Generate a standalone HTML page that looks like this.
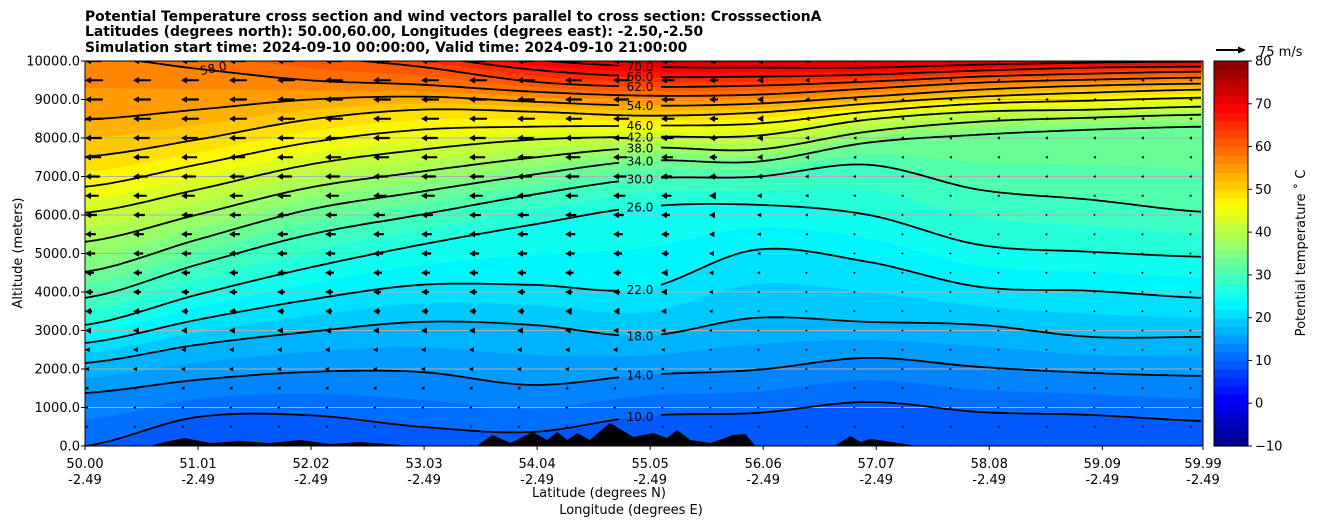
<!DOCTYPE html>
<html><head><meta charset="utf-8">
<style>
html,body{margin:0;padding:0;background:#fff;}
svg{display:block;font-family:"DejaVu Sans","Liberation Sans",sans-serif;}
</style></head>
<body>
<svg id="chart" width="1320" height="526" viewBox="0 0 1320 526" xmlns="http://www.w3.org/2000/svg">
  <g font-weight="bold" font-size="13.9" fill="#000">
    <text x="85" y="21">Potential Temperature cross section and wind vectors parallel to cross section: CrosssectionA</text>
    <text x="85" y="36">Latitudes (degrees north): 50.00,60.00, Longitudes (degrees east): -2.50,-2.50</text>
    <text x="85" y="52">Simulation start time: 2024-09-10 00:00:00, Valid time: 2024-09-10 21:00:00</text>
  </g>
  <defs><clipPath id="plotclip"><rect x="85" y="61" width="1118" height="385"/></clipPath></defs>
  <g id="fills" clip-path="url(#plotclip)"></g>
  <g id="grid"></g>
  <g id="terrain" clip-path="url(#plotclip)"></g>
  <g id="contours" clip-path="url(#plotclip)"></g>
  <g id="clabels" font-size="12" fill="#000"></g>
  <g id="arrows" clip-path="url(#plotclip)"></g>
  <rect x="85" y="61" width="1118" height="385" fill="none" stroke="#000" stroke-width="1"/>
  <g id="xaxis" font-size="13"></g>
  <g id="yaxis" font-size="13"></g>
  <text x="599" y="497" font-size="13" text-anchor="middle">Latitude (degrees N)</text>
  <text x="631" y="514" font-size="13" text-anchor="middle">Longitude (degrees E)</text>
  <text transform="translate(22,253) rotate(-90)" font-size="13" text-anchor="middle">Altitude (meters)</text>
  <g id="cbar" font-size="13"></g>
  <text transform="translate(1305,253) rotate(-90)" font-size="13" text-anchor="middle">Potential temperature ˚ C</text>
  <g>
    <polygon points="1216,49 1238,49 1238,46.5 1246,50 1238,53.5 1238,51 1216,51" fill="#000"/>
    <text x="1258" y="56" font-size="13">75 m/s</text>
  </g>
</svg>
<script>
// ---- data ----
const lats = [50,51,52,53,54,55,56,57,58,59,60];
const levels = [10,14,18,22,26,30,34,38,42,46,50,54,58,62,66,70,74];
const h10 = [0,750,800,500,364,780,858,1144,884,806,650];
const h14 = [1378,1716,1924,1924,1586,1846,1976,2288,2054,1898,1820];
const h18 = [2158,2626,2964,3224,3146,2860,3328,3224,3146,2834,2834];
const h22 = [2678,3276,3796,4186,4186,4082,5096,4784,4134,4030,3848];
const h26 = [3146,3926,4628,5226,5746,6214,6266,6006,5226,5044,4914];
const h30 = [3848,4706,5486,6006,6526,6942,6994,7306,6656,6396,6084];
const h34 = [4524,5356,6136,6604,7046,7410,7384,7878,8086,8216,8294];
const h38 = [5304,6006,6708,7124,7488,7748,7696,8164,8424,8528,8606];
const h42 = [6058,6656,7306,7696,7956,8034,8060,8476,8684,8736,8814];
const h46 = [6734,7306,7878,8216,8294,8320,8372,8684,8892,8970,9048];
const h50 = [7514,7956,8476,8736,8684,8580,8658,8892,9074,9178,9256];
const h54 = [8476,8736,8996,9074,8944,8840,8892,9074,9256,9360,9412];
const h58 = [10150,9800,9500,9386,9204,9100,9126,9282,9438,9516,9568];
const h62 = [11000,10600,10150,9850,9464,9334,9360,9464,9594,9672,9724];
const h66 = [11300,10900,10500,10150,9776,9594,9594,9646,9750,9828,9854];
const h70 = [11500,11100,10750,10400,10036,9854,9828,9828,9906,9958,9984];
const h74 = [11700,11300,10950,10650,10296,10036,10088,10140,10114,10088,10114];
const h78 = [12000,11600,11300,11200,10900,10600,10500,10450,10450,10500,10500];
const labeledLevels = [10,14,18,22,26,30,34,38,42,46,54,62,66,70];
const terrainLat = [50.00,50.58,50.71,50.89,51.12,51.39,51.65,51.92,52.19,52.46,52.82,53.08,53.50,53.64,53.80,54.00,54.13,54.22,54.31,54.40,54.51,54.69,54.90,55.08,55.20,55.29,55.41,55.59,55.79,55.90,55.99,56.70,56.84,56.93,57.02,57.15,57.44,57.64,59.99];
const terrainAlt = [0,0,104,208,78,130,78,156,52,104,26,0,0,286,78,364,156,364,156,338,156,598,234,338,208,416,156,78,286,312,0,0,260,104,182,130,0,0,0];
const windAlts = [0,500,1000,1500,2000,2500,3000,3500,4000,4500,5000,5500,6000,6500,7000,7500,8000,8500,9000,9500,10000];
const windProfile = [5,7,8,9,11,13,16,19,21,24,27,29,32,37,40,43,45,48,48,48,45];
const windColFactor = [1,1,1,1,1,1,1,1,1,1,0.95,0.9,0.75,0.5,0.35,0.25,0.2,0.18,0.18,0.18,0.18,0.18,0.18,0.18];
const xTickLats = [50.00,51.01,52.02,53.03,54.04,55.05,56.06,57.07,58.08,59.09,59.99];
const xTickLons = ["-2.49","-2.49","-2.49","-2.49","-2.49","-2.49","-2.49","-2.49","-2.49","-2.49","-2.49"];
const yTicks = [0,1000,2000,3000,4000,5000,6000,7000,8000,9000,10000];
const cbarTicks = [-10,0,10,20,30,40,50,60,70,80];

// ---- scales ----
const X0=85,X1=1203,Y0=446,Y1=61;
const xOf = lat => X0 + (lat-50)/(59.99-50)*(X1-X0);
const yOf = alt => Y0 - alt/10000*(Y0-Y1);
const latOf = x => 50 + (x-X0)/(X1-X0)*9.99;
const NS='http://www.w3.org/2000/svg';
function mk(tag, attrs, parent){const e=document.createElementNS(NS,tag);for(const k in attrs)e.setAttribute(k,attrs[k]);parent.appendChild(e);return e;}
function jet(v){const t=Math.max(0,Math.min(1,(v+10)/90));const c=x=>Math.round(255*Math.max(0,Math.min(1,x)));
  return `rgb(${c(1.5-Math.abs(4*t-3))},${c(1.5-Math.abs(4*t-2))},${c(1.5-Math.abs(4*t-1))})`;}

const coarse = [h10,h14,h18,h22,h26,h30,h34,h38,h42,h46,h50,h54,h58,h62,h66,h70,h74];
function catmull(arr, lat){
  const u=(lat-50)*10/9.99;let i=Math.floor(u);if(i<0)i=0;if(i>arr.length-2)i=arr.length-2;
  const t=u-i;const p0=arr[Math.max(0,i-1)],p1=arr[i],p2=arr[i+1],p3=arr[Math.min(arr.length-1,i+2)];
  return 0.5*((2*p1)+(-p0+p2)*t+(2*p0-5*p1+4*p2-p3)*t*t+(-p0+3*p1-3*p2+p3)*t*t*t);
}
const xs=[];for(let x=X0;x<=X1+0.01;x+=3)xs.push(x);
const fullLv=[8].concat(levels,[78,82]);
const fullH=[xs.map(()=>-800)].concat(coarse.map(a=>xs.map(x=>catmull(a,latOf(x)))),[xs.map(x=>catmull(h78,latOf(x)))],[xs.map(()=>14000)]);
function heightsFor(L){
  for(let k=0;k<fullLv.length-1;k++){
    if(L>=fullLv[k]&&L<=fullLv[k+1]){const f=(L-fullLv[k])/(fullLv[k+1]-fullLv[k]);
      return xs.map((_,j)=>fullH[k][j]*(1-f)+fullH[k+1][j]*f);}
  }
  return xs.map(()=>14000);
}
// fills
const gF=document.getElementById('fills');
const bg=mk('rect',{x:X0,y:Y1,width:X1-X0,height:Y0-Y1,fill:jet(9)},gF);


for(let L=10;L<80;L+=2){
  const hs=heightsFor(L);
  let d='M'+xs.map((x,j)=>x.toFixed(1)+','+yOf(hs[j]).toFixed(1)).join('L')+`L${X1},${Y1-5}L${X0},${Y1-5}Z`;
  const p=mk('path',{d:d,fill:jet(L+1),stroke:jet(L+1),'stroke-width':0.5},gF);
  
  
}
// grid
const gG=document.getElementById('grid');
yTicks.slice(1,-1).forEach(a=>{
  const l=mk('line',{x1:X0,x2:X1,y1:yOf(a),y2:yOf(a),stroke:'#b0b0b0','stroke-width':1},gG);
  
  
});
// terrain
const gT=document.getElementById('terrain');
let td=`M${xOf(terrainLat[0])},${Y0+2}`;
terrainLat.forEach((la,i)=>{td+=`L${xOf(la).toFixed(1)},${yOf(terrainAlt[i]).toFixed(1)}`;});
td+=`L${X1},${Y0+2}Z`;
const tp=mk('path',{d:td,fill:'#000'},gT);


// contours
const gC=document.getElementById('contours'),gL=document.getElementById('clabels');
levels.forEach((L,k)=>{
  const hs=fullH[k+1];const lab=labeledLevels.includes(L);
  let d='',pen=false;
  xs.forEach((x,j)=>{
    const y=yOf(hs[j]);
    if(lab&&x>620&&x<660){pen=false;return;}
    d+=(pen?'L':'M')+x.toFixed(1)+','+y.toFixed(1);pen=true;
  });
  const p=mk('path',{d:d,fill:'none',stroke:'#000','stroke-width':1.8},gC);
  
  
  if(lab){
    const y=yOf(catmull(coarse[k],latOf(640)));
    if(y>62){
      const t=mk('text',{x:640,y:(y+4.5).toFixed(1),'text-anchor':'middle'},gL);
      t.textContent=L.toFixed(1);
      
      
    }
  }
});
const t58=mk('text',{x:200,y:72,'font-size':12,transform:'rotate(-12 215 68)'},gL);
t58.textContent='58.0';


// arrows
const gA=document.getElementById('arrows');
const pxPerMs=28/75;
windColFactor.forEach((cf,ci)=>{
  const x=X0+48*ci;
  windAlts.forEach((a,ri)=>{
    const y=yOf(a);const L=windProfile[ri]*cf*pxPerMs;
    let pts;
    if(L>=7){pts=[[0,0],[6,-3.3],[6,-1.1],[L,-1.1],[L,1.1],[6,1.1],[6,3.3]];}
    else{const s=Math.max(L,2.2)/6;pts=[[0,0],[6*s,-3.3*s],[6*s,3.3*s]];}
    const ar=mk('polygon',{points:pts.map(p=>(x+p[0]).toFixed(1)+','+(y+p[1]).toFixed(1)).join(' '),fill:'#000'},gA);
    
    
  });
});
// x axis
const gX=document.getElementById('xaxis');
xTickLats.forEach((la,i)=>{
  const x=xOf(la);
  const tk=mk('line',{x1:x,x2:x,y1:Y0,y2:Y0+4,stroke:'#000'},gX);
  
  
  const t=mk('text',{x:x,y:468,'text-anchor':'middle'},gX);
  t.textContent=la.toFixed(2);
  
  
  const t2=mk('text',{x:x,y:484,'text-anchor':'middle'},gX);
  t2.textContent=xTickLons[i];
  
  
});
// y axis
const gY=document.getElementById('yaxis');
yTicks.forEach(a=>{
  const y=yOf(a);
  const tk=mk('line',{x1:X0-4,x2:X0,y1:y,y2:y,stroke:'#000'},gY);
  
  
  const t=mk('text',{x:80,y:y+4.5,'text-anchor':'end'},gY);
  t.textContent=a.toFixed(1);
  
  
});
// colorbar
const gB=document.getElementById('cbar');
const CX=1214,CW=34,CY0=446,CY1=61;
const cy=v=>CY0-(v+10)/90*(CY0-CY1);
for(let v=-10;v<80;v+=2){
  const r=mk('rect',{x:CX,y:cy(v+2).toFixed(2),width:CW,height:(cy(v)-cy(v+2)+0.6).toFixed(2),fill:jet(v+1)},gB);
  
  
}
const fr=mk('rect',{x:CX,y:CY1,width:CW,height:CY0-CY1,fill:'none',stroke:'#000','stroke-width':1},gB);


cbarTicks.forEach(v=>{
  const y=cy(v);
  const tk=mk('line',{x1:CX+CW,x2:CX+CW+4,y1:y,y2:y,stroke:'#000'},gB);
  
  
  const t=mk('text',{x:1255,y:y+4.5},gB);
  t.textContent=v<0?'\u2212'+Math.abs(v):String(v);
  
  
});
</script>
</body></html>
